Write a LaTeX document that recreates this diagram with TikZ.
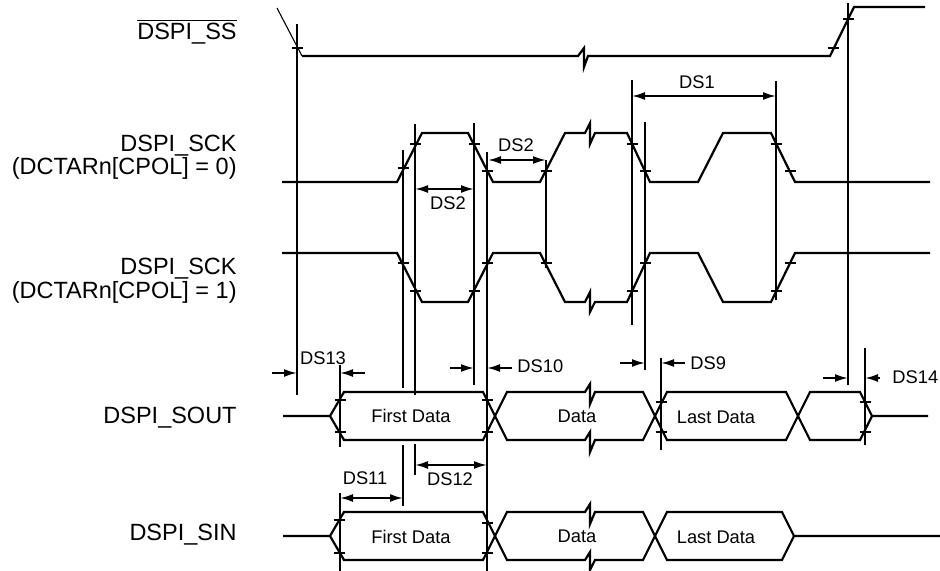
\documentclass[tikz,border=0pt]{standalone}
\usepackage{fontspec}
\setmainfont{Liberation Sans}
\usepackage{tikz}
\usetikzlibrary{arrows.meta}
\newcommand{\signalfont}{\fontsize{11.75pt}{11.75pt}\selectfont}
\newcommand{\dsfont}{\fontsize{9.15pt}{9.15pt}\selectfont}

\begin{document}
\begin{tikzpicture}[x=0.5pt,y=-0.5pt,
wave/.style={line width=1.1pt},
guide/.style={line width=1.1pt},
thin guide/.style={line width=0.55pt},
tickmark/.style={line width=1.1pt},
both arrows/.style={line width=1pt,{Latex[length=6.5pt,width=4pt]}-{Latex[length=6.5pt,width=4pt]}},
in arrow/.style={line width=1pt,-{Latex[length=6.5pt,width=4pt]}},
sig name/.style={font=\signalfont,inner sep=0pt,anchor=base east},
ds label/.style={font=\dsfont,inner sep=0pt}]
    \useasboundingbox (0,0) rectangle (940,571);
    % signal names
    \node[sig name] (Name ss) at (237,40) {$\overline{\mbox{DSPI\_SS}}$};
    \node[sig name] (Name sck0) at (237,151.7) {DSPI\_SCK};
    \node[sig name] (Pol sck0) at ([yshift=-11.65pt]Name sck0.base east) {(DCTARn[CPOL] = 0)};
    \node[sig name] (Name sck1) at (237,275) {DSPI\_SCK};
    \node[sig name] (Pol sck1) at ([yshift=-11.65pt]Name sck1.base east) {(DCTARn[CPOL] = 1)};
    \node[sig name] (Name sout) at (237,423) {DSPI\_SOUT};
    \node[sig name] (Name sin) at (237,540) {DSPI\_SIN};
    % waveforms
    \draw[thin guide] (277,8) -- (302,56);
    \draw[wave] (302,56) -- (578,56) -- (584,48) -- (584,67) -- (588,56) -- (830,56) -- (854,7) -- (925,7);
    \draw[wave] (282,182) -- (397,182) -- (422,133) -- (468,133) -- (493,182) -- (540,182) -- (565,133) -- (585,133)
        -- (590,123) -- (590,144) -- (595,133) -- (627,133) -- (650,182) -- (698,182) -- (723,133) -- (771,133) -- (795,182) -- (930,182);
    \draw[wave] (282,253) -- (397,253) -- (422,302) -- (468,302) -- (493,253) -- (540,253) -- (565,302) -- (585,302)
        -- (590,292) -- (590,312) -- (595,302) -- (627,302) -- (650,253) -- (698,253) -- (723,302) -- (771,302) -- (795,253) -- (930,253);
    \draw[wave] (283,416) -- (330,416) -- (344,392) -- (483,392) -- (507,440) -- (585,440) -- (590,432) -- (590,452) -- (595,440)
        -- (643,440) -- (667,392) -- (786,392) -- (810,440) -- (860,440) -- (872,416) -- (928,416);
    \draw[wave] (330,416) -- (344,440) -- (483,440) -- (507,392) -- (585,392) -- (590,384) -- (590,404) -- (595,392)
        -- (643,392) -- (667,440) -- (786,440) -- (810,392) -- (860,392) -- (872,416);
    \draw[wave] (283,536) -- (330,536) -- (344,512) -- (483,512) -- (507,560) -- (585,560) -- (590,552) -- (590,570) -- (595,560)
        -- (643,560) -- (667,512) -- (782,512) -- (794,536) -- (940,536);
    \draw[wave] (330,536) -- (344,560) -- (483,560) -- (507,512) -- (585,512) -- (590,504) -- (590,524) -- (595,512)
        -- (643,512) -- (667,560) -- (782,560) -- (794,536);
    % data labels
    \node[ds label] (Sout first) at (411,416) {First Data};
    \node[ds label] (Sout data) at (577,416) {Data};
    \node[ds label] (Sout last) at (716,417) {Last Data};
    \node[ds label] (Sin first) at (411,537) {First Data};
    \node[ds label] (Sin data) at (577,536) {Data};
    \node[ds label] (Sin last) at (716,537) {Last Data};
    % timing guides
    \foreach \x/\a/\b in {297/24/395, 403/150/388, 403/445/506, 415/124/395, 415/444/475, 474/123/385,
        487/152/571, 632/80/325, 645/122/370, 661/358/450, 776/81/300, 848/3/385, 865/348/445,
        340/365/447, 340/493/571}
        \draw[guide] (\x,\a) -- (\x,\b);
    \draw[thin guide] (546,160) -- (546,268);
    % crossing marks
    \foreach \x/\y in {297/48, 833/48, 848/19,
        403/168, 415/144, 474/144, 487/171, 546/171, 632/144, 645/171, 776/144, 790/171,
        403/263, 415/291, 474/291, 487/263, 546/263, 632/291, 645/263, 776/291, 790/263,
        340/400, 340/432, 487/400, 487/432, 661/402, 661/432, 865/402, 865/432,
        339/520, 339/553, 487/523, 487/553}
        \draw[tickmark] (\x-5.5,\y) -- (\x+5.5,\y);
    % timing specs
    \draw[both arrows] (632,96) -- (776,96);
    \node[ds label] (DS1) at (697,82) {DS1};
    \draw[both arrows] (488,160) -- (546,160);
    \node[ds label] (DS2 high) at (516,145) {DS2};
    \draw[both arrows] (415,189) -- (474,189);
    \node[ds label] (DS2 low) at (448,203) {DS2};
    \draw[in arrow] (272,373) -- (297,373);
    \draw[in arrow] (365,373) -- (340,373);
    \node[ds label] (DS13) at (323,358) {DS13};
    \draw[in arrow] (450,368) -- (474,368);
    \draw[in arrow] (512,368) -- (487,368);
    \node[ds label,anchor=west] (DS10) at (517,366) {DS10};
    \draw[in arrow] (620,363) -- (645,363);
    \draw[in arrow] (685,363) -- (661,363);
    \node[ds label,anchor=west] (DS9) at (690,363) {DS9};
    \draw[in arrow] (823,378) -- (848,378);
    \draw[in arrow] (880,378) -- (865,378);
    \node[ds label,anchor=west] (DS14) at (892,377) {DS14};
    \draw[both arrows] (415,465) -- (487,465);
    \node[ds label] (DS12) at (450,479) {DS12};
    \draw[both arrows] (340,498) -- (403,498);
    \node[ds label] (DS11) at (365,478) {DS11};
\end{tikzpicture}
\end{document}
